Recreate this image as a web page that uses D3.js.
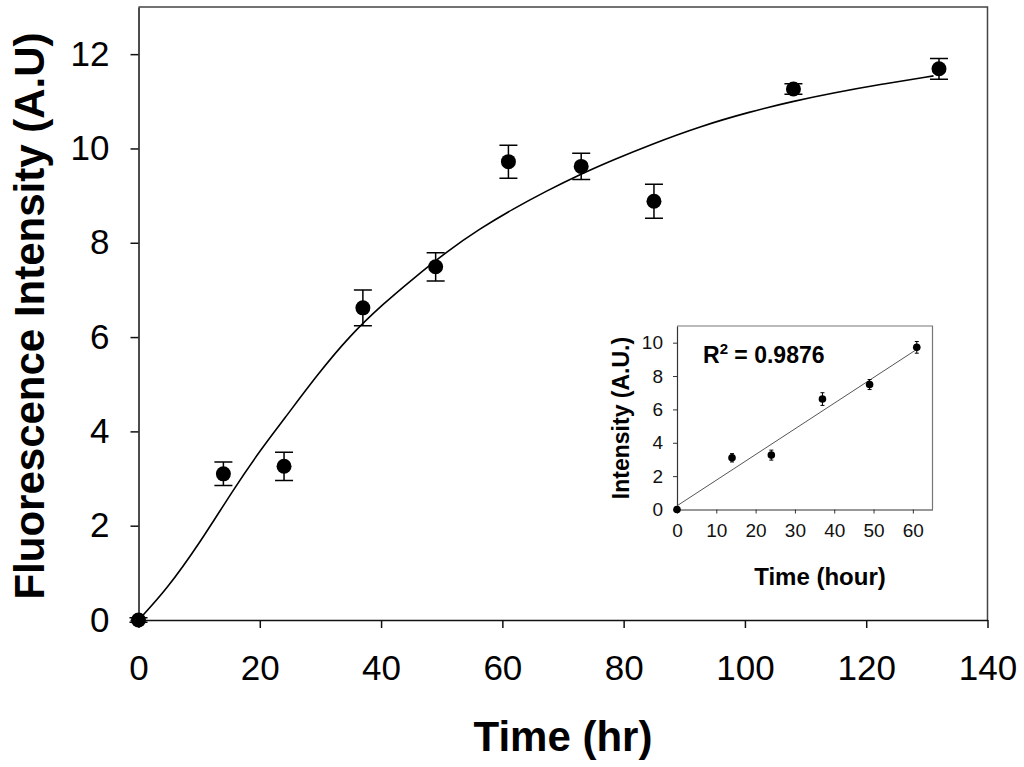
<!DOCTYPE html>
<html lang="en">
<head>
    <meta charset="utf-8">
    <title>Fluorescence Intensity vs Time</title>
    <script src="https://d3js.org/d3.v7.min.js"></script>
    <style>
        body { margin: 0; background: #fff; }
        svg { display: block; font-family: "Liberation Sans", Arial, sans-serif; }
    </style>
</head>
<body>
<script type="text/javascript">
    // measured points (hr, A.U) with error bars
    var timeHr = [0, 14, 24, 37, 49, 61, 73, 85, 108, 132];
    var intensity = [0, 3.1, 3.26, 6.62, 7.49, 9.72, 9.62, 8.88, 11.26, 11.69];
    var errors = [0.05, 0.25, 0.3, 0.38, 0.3, 0.35, 0.28, 0.36, 0.11, 0.22];

    // fitted curve
    var curveTime = [0, 4.6, 10.1, 15.6, 20.3, 23.9, 29.4, 34.9, 40.4, 45.3, 50.8, 56.3, 61.8, 67.3, 72.8, 78.3, 84.4, 92.6, 100.9, 107.9, 114.6, 122.8, 131.1];
    var curveIntensity = [0, 0.64, 1.63, 2.76, 3.64, 4.24, 5.19, 6.04, 6.71, 7.24, 7.81, 8.3, 8.72, 9.1, 9.45, 9.76, 10.08, 10.47, 10.78, 11.0, 11.18, 11.37, 11.54];

    // inset: first six points and linear fit
    var insetCount = 6;
    var fitTime = [0, 61];
    var fitIntensity = [0.22, 9.6];

    var xTicks = [0, 20, 40, 60, 80, 100, 120, 140];
    var yTicks = [0, 2, 4, 6, 8, 10, 12];
    var insetXTicks = [0, 10, 20, 30, 40, 50, 60];
    var insetYTicks = [0, 2, 4, 6, 8, 10];

    var width = 1024, height = 767;

    var svg = d3.select("body")
            .append("svg")
            .attr("width", width)
            .attr("height", height);

    //main chart scales
    var x = d3.scaleLinear().domain([0, 140]).range([138.5, 987.5]);
    var y = d3.scaleLinear().domain([0, 13]).range([620, 7]);

    //frame top and right
    svg.append("path")
            .attr("d", "M" + x(0) + "," + y(13) + "H" + x(140) + "V" + y(0))
            .attr("fill", "none")
            .attr("stroke", "#444")
            .attr("stroke-width", 1.5);

    var xAxis = svg.append("g")
            .attr("transform", "translate(0," + y(0) + ")")
            .call(d3.axisBottom(x).tickValues(xTicks).tickSize(8).tickPadding(27).tickSizeOuter(0));
    var yAxis = svg.append("g")
            .attr("transform", "translate(" + x(0) + ",0)")
            .call(d3.axisLeft(y).tickValues(yTicks).tickSize(8).tickPadding(21).tickSizeOuter(0));

    [xAxis, yAxis].forEach(function(g) {
        g.select(".domain").attr("stroke", "#111").attr("stroke-width", 1.5);
        g.selectAll(".tick line").attr("stroke", "#111").attr("stroke-width", 1.5);
        g.selectAll("text")
                .attr("fill", "#000")
                .attr("font-family", "Liberation Sans, Arial, sans-serif")
                .attr("font-size", "35px");
    });

    //axis titles
    svg.append("text")
            .attr("x", 563)
            .attr("y", 751)
            .attr("text-anchor", "middle")
            .attr("font-size", "42px")
            .attr("font-weight", "bold")
            .text("Time (hr)");

    svg.append("text")
            .attr("transform", "translate(44,316) rotate(-90)")
            .attr("text-anchor", "middle")
            .attr("font-size", "42px")
            .attr("font-weight", "bold")
            .text("Fluorescence Intensity (A.U)");

    //fitted curve
    var line = d3.line()
            .x(function(d, i) { return x(curveTime[i]); })
            .y(function(d) { return y(d); })
            .curve(d3.curveBasis);

    svg.append("path")
            .datum(curveIntensity)
            .attr("d", line)
            .attr("fill", "none")
            .attr("stroke", "#000")
            .attr("stroke-width", 1.6);

    //error bars + dots
    var pts = svg.append("g")
            .selectAll("g")
            .data(timeHr)
            .enter()
            .append("g");

    pts.append("path")
            .attr("d", function(d, i) {
                var cx = x(d), top = y(intensity[i] + errors[i]), bot = y(intensity[i] - errors[i]);
                return "M" + cx + "," + top + "V" + bot +
                       "M" + (cx - 9) + "," + top + "H" + (cx + 9) +
                       "M" + (cx - 9) + "," + bot + "H" + (cx + 9);
            })
            .attr("stroke", "#000")
            .attr("stroke-width", 1.5)
            .attr("fill", "none");

    pts.append("circle")
            .attr("cx", function(d) { return x(d); })
            .attr("cy", function(d, i) { return y(intensity[i]); })
            .attr("r", 7.5)
            .attr("fill", "#000");

    //inset chart
    var ix = d3.scaleLinear().domain([0, 65]).range([677, 932.5]);
    var iy = d3.scaleLinear().domain([0, 11]).range([509.5, 326]);

    svg.append("path")
            .attr("d", "M" + ix(0) + "," + iy(11) + "H" + ix(65) + "V" + iy(0))
            .attr("fill", "none")
            .attr("stroke", "#777")
            .attr("stroke-width", 1.2);

    var ixAxis = svg.append("g")
            .attr("transform", "translate(0," + iy(0) + ")")
            .call(d3.axisBottom(ix).tickValues(insetXTicks).tickSize(4).tickPadding(10).tickSizeOuter(0));
    var iyAxis = svg.append("g")
            .attr("transform", "translate(" + ix(0) + ",0)")
            .call(d3.axisLeft(iy).tickValues(insetYTicks).tickSize(4).tickPadding(10).tickSizeOuter(0));

    [ixAxis, iyAxis].forEach(function(g) {
        g.select(".domain").attr("stroke", "#333").attr("stroke-width", 1.2);
        g.selectAll(".tick line").attr("stroke", "#333").attr("stroke-width", 1);
        g.selectAll("text")
                .attr("fill", "#111")
                .attr("font-family", "Liberation Sans, Arial, sans-serif")
                .attr("font-size", "19px");
    });

    svg.append("text")
            .attr("x", 820)
            .attr("y", 585)
            .attr("text-anchor", "middle")
            .attr("font-size", "24px")
            .attr("font-weight", "bold")
            .text("Time (hour)");

    svg.append("text")
            .attr("transform", "translate(629,418) rotate(-90)")
            .attr("text-anchor", "middle")
            .attr("font-size", "23px")
            .attr("font-weight", "bold")
            .text("Intensity (A.U.)");

    var r2 = svg.append("text")
            .attr("x", 703)
            .attr("y", 363)
            .attr("font-size", "23px")
            .attr("font-weight", "bold");
    r2.append("tspan").text("R");
    r2.append("tspan").attr("dy", -9).attr("font-size", "15px").text("2");
    r2.append("tspan").attr("dy", 9).text(" = 0.9876");

    //linear fit
    svg.append("line")
            .attr("x1", ix(fitTime[0]))
            .attr("y1", iy(fitIntensity[0]))
            .attr("x2", ix(fitTime[1]))
            .attr("y2", iy(fitIntensity[1]))
            .attr("stroke", "#555")
            .attr("stroke-width", 1);

    var ipts = svg.append("g")
            .selectAll("g")
            .data(timeHr.slice(0, insetCount))
            .enter()
            .append("g");

    ipts.append("path")
            .attr("d", function(d, i) {
                var cx = ix(d), top = iy(intensity[i] + errors[i]), bot = iy(intensity[i] - errors[i]);
                return "M" + cx + "," + top + "V" + bot +
                       "M" + (cx - 2) + "," + top + "H" + (cx + 2) +
                       "M" + (cx - 2) + "," + bot + "H" + (cx + 2);
            })
            .attr("stroke", "#000")
            .attr("stroke-width", 1)
            .attr("fill", "none");

    ipts.append("circle")
            .attr("cx", function(d) { return ix(d); })
            .attr("cy", function(d, i) { return iy(intensity[i]); })
            .attr("r", 3.8)
            .attr("fill", "#000");

</script>
</body>
</html>
